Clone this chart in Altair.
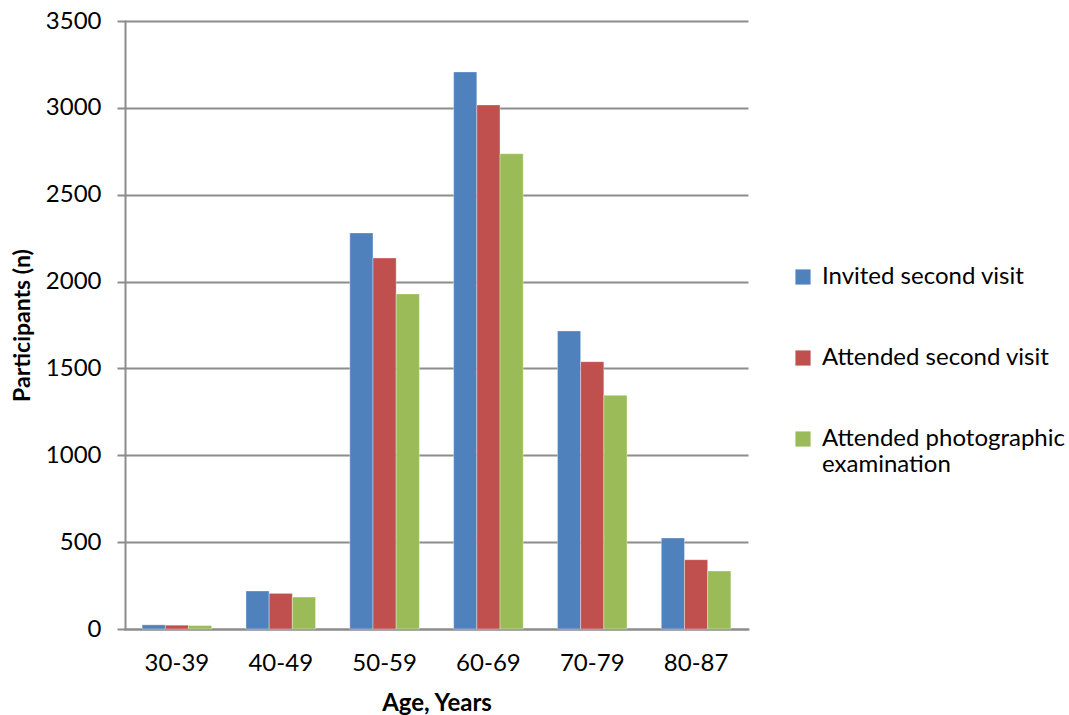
import altair as alt
import pandas as pd

ages = ["30-39", "40-49", "50-59", "60-69", "70-79", "80-87"]
series = ["Invited second visit", "Attended second visit", "Attended photographic examination"]
invited = [24, 219, 2280, 3207, 1716, 524]
attended = [22, 205, 2136, 3017, 1539, 399]
photo = [20, 184, 1929, 2736, 1345, 334]
colors = ["#4F81BD", "#C0504D", "#9BBB59"]

rows = []
for s, vals in zip(series, [invited, attended, photo]):
    for a, v in zip(ages, vals):
        rows.append({"Age": a, "Series": s, "Value": v})
df = pd.DataFrame(rows)

FONT = "Lato"

chart = alt.Chart(df).mark_bar(stroke="white", strokeWidth=0.6, strokeOpacity=0.6).encode(
    x=alt.X("Age:N", sort=ages,
            scale=alt.Scale(paddingInner=0.33, paddingOuter=0.165),
            axis=alt.Axis(title="Age, Years", labelAngle=0, ticks=False,
                          labelPadding=22, titlePadding=16,
                          domainColor="#8c8c8c", domainWidth=2,
                          labelFont=FONT, labelFontSize=24, labelColor="#000",
                          titleFont=FONT, titleFontSize=24, titleFontWeight="bold",
                          titleColor="#000")),
    xOffset=alt.XOffset("Series:N", sort=series, scale=alt.Scale(paddingInner=0, paddingOuter=0)),
    y=alt.Y("Value:Q", scale=alt.Scale(domain=[0, 3500], nice=False),
            axis=alt.Axis(title="Participants (n)", values=list(range(0, 3501, 500)),
                          format="d",
                          tickSize=8, tickColor="#8c8c8c", tickWidth=2,
                          domainColor="#8c8c8c", domainWidth=2,
                          gridColor="#8c8c8c", gridWidth=2,
                          labelPadding=16, titlePadding=11,
                          labelFont=FONT, labelFontSize=24, labelColor="#000",
                          titleFont=FONT, titleFontSize=23, titleFontWeight="bold",
                          titleColor="#000")),
    color=alt.Color("Series:N", sort=series,
                    scale=alt.Scale(domain=series, range=colors),
                    legend=alt.Legend(title=None, orient="none", legendX=666, legendY=244,
                                      symbolType="square", symbolSize=230,
                                      symbolStrokeWidth=0, symbolOpacity=1,
                                      labelFont=FONT, labelFontSize=24, labelColor="#000",
                                      labelLimit=400, rowPadding=57, labelOffset=7,
                                      labelExpr="datum.label == 'Attended photographic examination' ? ['Attended photographic', 'examination'] : datum.label")),
).properties(
    width=623, height=608,
    autosize=alt.AutoSizeParams(type="none"),
    padding={"left": 125, "top": 21, "right": 321, "bottom": 86},
).configure_view(stroke=None).configure_axis(domainCap="square")

chart.save("out.html", embed_options={"renderer": "svg", "actions": False})
